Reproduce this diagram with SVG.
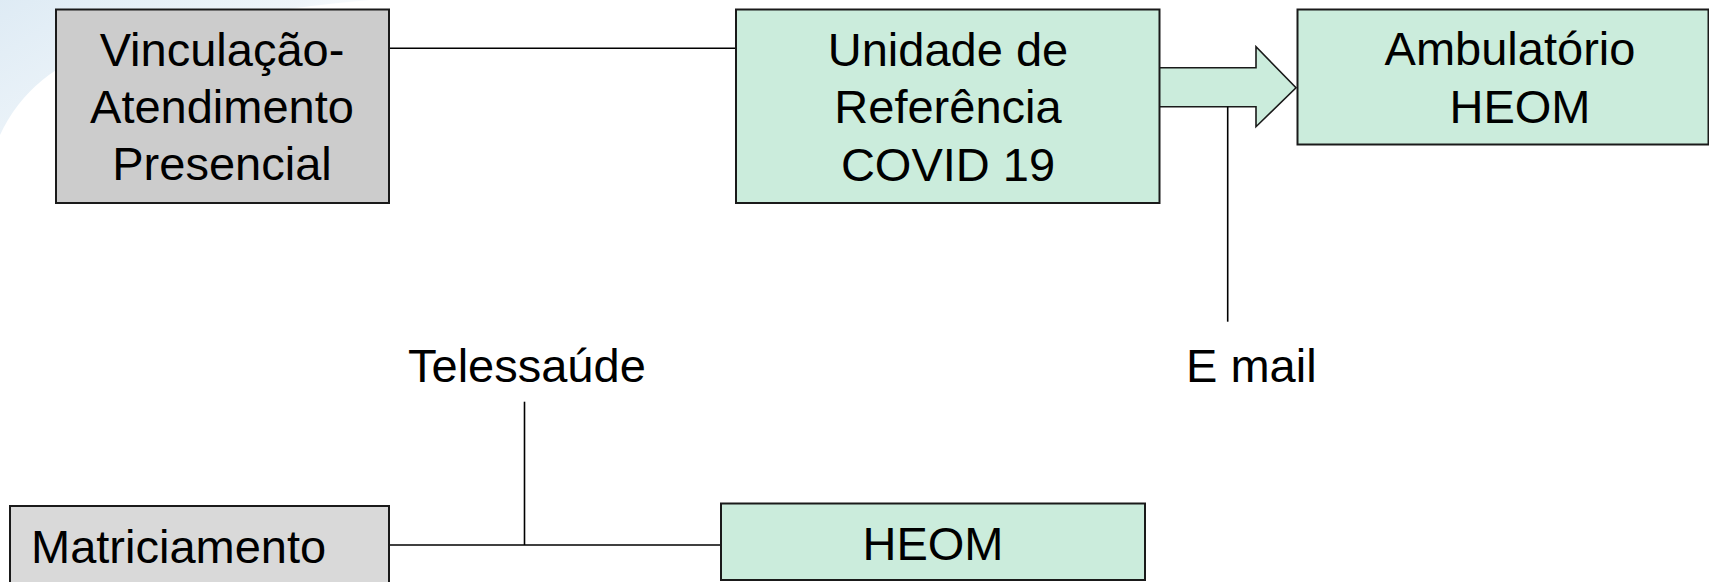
<svg xmlns="http://www.w3.org/2000/svg" width="1709" height="582" viewBox="0 0 1709 582">
<style>
.box{stroke:#1a1a1a;stroke-width:2}
.gray{fill:#cccccc}
.lgray{fill:#d9d9d9}
.green{fill:#cbecdc}
.t{font-family:"Liberation Sans",Arial,sans-serif;font-size:47px;fill:#000}
.c{text-anchor:middle}
.ln{stroke:#000;stroke-width:1.6;fill:none}
</style>
<defs>
<linearGradient id="bg" x1="0" y1="0" x2="1" y2="0.6">
<stop offset="0" stop-color="#d6e6f2"/>
<stop offset="0.6" stop-color="#eaf2f8"/>
<stop offset="1" stop-color="#ffffff" stop-opacity="0"/>
</linearGradient>
</defs>
<rect width="1709" height="582" fill="#ffffff"/>
<path d="M0,0 L370,0 Q230,12 110,45 Q30,70 0,135 Z" fill="url(#bg)" opacity="0.8"/>
<g id="connectors">
<line class="ln" x1="389" y1="48.3" x2="736" y2="48.3"/>
<path d="M1159.5,67.7 L1256,67.7 L1256,46.7 L1296,87.7 L1256,126.7 L1256,106.7 L1159.5,106.7" class="green" stroke="#1a1a1a" stroke-width="1.6"/>
<line class="ln" x1="1227.7" y1="106.7" x2="1227.7" y2="321.7"/>
<line class="ln" x1="389" y1="545" x2="721" y2="545"/>
<line class="ln" x1="524.5" y1="401.7" x2="524.5" y2="545"/>
</g>
<g id="n-vinculacao">
<rect class="box gray" x="56" y="9.5" width="333" height="193.5"/>
<text class="t c" x="222" y="65.7">Vinculação-</text>
<text class="t c" x="222" y="123.3">Atendimento</text>
<text class="t c" x="222" y="180">Presencial</text>
</g>
<g id="n-unidade">
<rect class="box green" x="736" y="9.5" width="423.5" height="193.5"/>
<text class="t c" x="948" y="65.7">Unidade de</text>
<text class="t c" x="948" y="123.3">Referência</text>
<text class="t c" x="948" y="181">COVID 19</text>
</g>
<g id="n-ambulatorio">
<rect class="box green" x="1297.5" y="9.5" width="411" height="135"/>
<text class="t c" x="1510" y="65">Ambulatório</text>
<text class="t c" x="1520" y="122.7">HEOM</text>
</g>
<g id="n-email">
<text class="t" x="1186" y="381.7">E mail</text>
</g>
<g id="n-telessaude">
<text class="t" x="408" y="381.7">Telessaúde</text>
</g>
<g id="n-matriciamento">
<rect class="box lgray" x="10" y="506" width="379" height="90"/>
<text class="t" x="31" y="562.7">Matriciamento</text>
</g>
<g id="n-heom">
<rect class="box green" x="721" y="503.5" width="424" height="76.5"/>
<text class="t c" x="933" y="560">HEOM</text>
</g>
</svg>
